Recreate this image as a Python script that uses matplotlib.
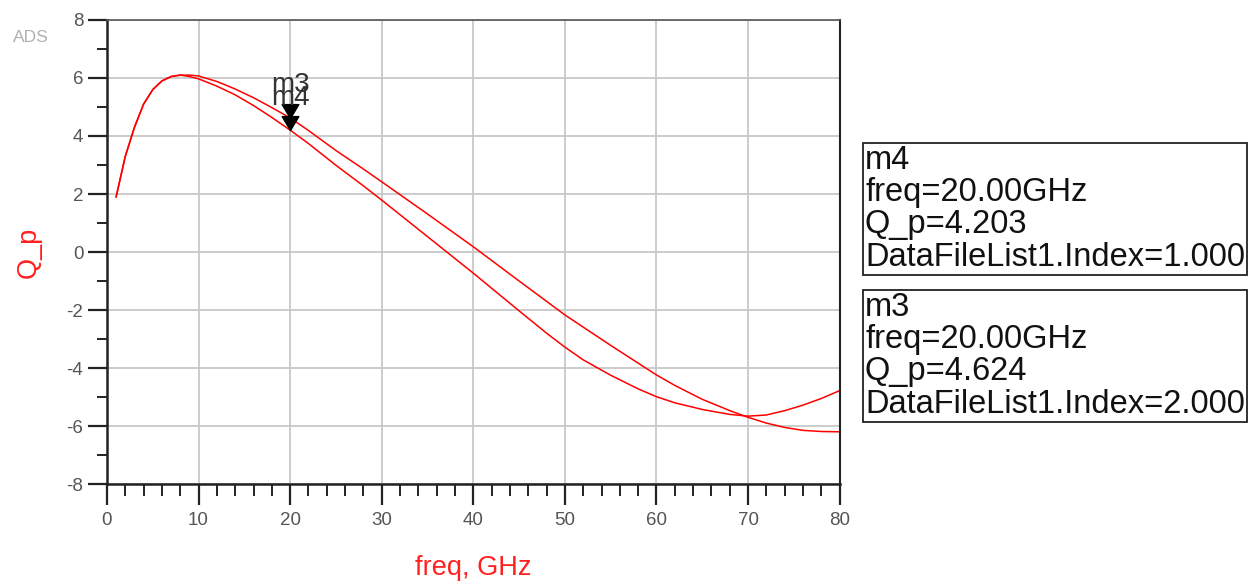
import matplotlib
matplotlib.use("Agg")
import matplotlib.pyplot as plt
from matplotlib.path import Path
from matplotlib.ticker import MultipleLocator

plt.rcParams['font.family'] = ['Liberation Sans', 'DejaVu Sans']
plt.rcParams['axes.unicode_minus'] = False

# ---- data ----
freq1 = [1, 2, 3, 4, 5, 6, 7, 8, 9, 10, 12, 14, 16, 18, 20, 22, 25, 28, 30, 35, 40,
         45, 48, 50, 52, 55, 58, 60, 62, 65, 68, 70, 72, 74, 76, 78, 80]
qp1 = [1.9, 3.3, 4.3, 5.1, 5.6, 5.9, 6.05, 6.1, 6.05, 5.97, 5.72, 5.42, 5.05, 4.64,
       4.203, 3.74, 2.99, 2.28, 1.79, 0.53, -0.73, -2.03, -2.8, -3.28, -3.72, -4.25,
       -4.72, -4.99, -5.2, -5.43, -5.6, -5.66, -5.62, -5.47, -5.28, -5.05, -4.78]
freq2 = [1, 2, 3, 4, 5, 6, 7, 8, 9, 10, 12, 14, 16, 18, 20, 22, 25, 28, 30, 35, 40,
         45, 50, 55, 60, 62, 65, 68, 70, 72, 74, 76, 78, 80]
qp2 = [1.9, 3.3, 4.3, 5.1, 5.6, 5.9, 6.05, 6.1, 6.1, 6.07, 5.88, 5.62, 5.32, 4.98,
       4.624, 4.19, 3.5, 2.86, 2.42, 1.31, 0.18, -1.0, -2.17, -3.22, -4.24, -4.6,
       -5.08, -5.47, -5.70, -5.9, -6.05, -6.15, -6.19, -6.2]

markers = ["m4", "m3"]
marker_freq = [20.0, 20.0]
marker_q = [4.203, 4.624]
marker_index = [1.0, 2.0]

xticks = [0, 10, 20, 30, 40, 50, 60, 70, 80]
yticks = [-8, -6, -4, -2, 0, 2, 4, 6, 8]

RED = "#ff2020"

fig = plt.figure(figsize=(12.57, 5.83), dpi=100)
ax = fig.add_axes([0.0851, 0.1698, 0.668 - 0.0851, 0.9657 - 0.1698])

ax.plot(freq1, qp1, color="#ff0000", lw=1.1)
ax.plot(freq2, qp2, color="#ff0000", lw=1.1)

# downward triangle markers with tip at the data point
tri = Path([(-0.6, 1.0), (0.6, 1.0), (0.0, 0.0), (-0.6, 1.0)],
           [Path.MOVETO, Path.LINETO, Path.LINETO, Path.CLOSEPOLY])
for name, f, q in zip(markers, marker_freq, marker_q):
    ax.plot([f], [q], marker=tri, markersize=20, color="black", ls="none", zorder=5)
# labels above markers (they overlap in the reference as well)
ax.annotate("m3", (marker_freq[1], marker_q[1]), xytext=(0, 18.5), textcoords="offset points",
            ha="center", va="baseline", fontsize=20, color="#333333", zorder=6)
ax.annotate("m4", (marker_freq[0], marker_q[0]), xytext=(0, 18), textcoords="offset points",
            ha="center", va="baseline", fontsize=20, color="#333333", zorder=6)

ax.set_xlim(0, 80)
ax.set_ylim(-8, 8)
ax.set_xticks(xticks)
ax.set_yticks(yticks)
ax.xaxis.set_minor_locator(MultipleLocator(2))
ax.yaxis.set_minor_locator(MultipleLocator(1))
ax.grid(True, which="major", color="#c8c8c8", lw=1.3)
ax.set_axisbelow(True)

ax.tick_params(axis="x", which="major", direction="out", length=15, width=1.6,
               color="#222222", labelsize=13.5, labelcolor="#555555", pad=5)
ax.tick_params(axis="x", which="minor", direction="out", length=8.5, width=1.4, color="#222222")
ax.tick_params(axis="y", which="major", direction="out", length=14, width=1.6,
               color="#222222", labelsize=13.5, labelcolor="#555555", pad=3)
ax.tick_params(axis="y", which="minor", direction="out", length=7, width=1.4, color="#222222")

for side in ["left", "bottom"]:
    ax.spines[side].set_linewidth(1.8)
    ax.spines[side].set_color("#222222")
ax.spines["top"].set_linewidth(1.2)
ax.spines["top"].set_color("#555555")
ax.spines["right"].set_linewidth(1.5)
ax.spines["right"].set_color("#222222")

ax.set_xlabel("freq, GHz", color=RED, fontsize=19.5)
ax.set_ylabel("Q_p", color=RED, fontsize=19.5)
ax_w = 840 - 107
ax_h = 484 - 20
ax.xaxis.set_label_coords((473 - 107) / ax_w, -(568 - 484) / ax_h)
ax.yaxis.set_label_coords(-(107 - 29) / ax_w, 0.5)
ax.xaxis.label.set_va("center")
ax.yaxis.label.set_va("center")

fig.text(31 / 1257, 1 - 37 / 583, "ADS", color="#b0b0b0", fontsize=12.5, ha="center", va="center")

# marker readout boxes
box_tops = [145, 292]
for name, f, q, idx, top in zip(markers, marker_freq, marker_q, marker_index, box_tops):
    txt = f"{name}\nfreq={f:.2f}GHz\nQ_p={q:.3f}\nDataFileList1.Index={idx:.3f}"
    fig.text(865 / 1257, 1 - top / 583, txt, fontsize=23.5, color="#111111",
             ha="left", va="top", linespacing=1.05,
             bbox=dict(boxstyle="square,pad=0.06", fc="white", ec="#222222", lw=1.3))

fig.savefig("out.png", dpi=100)
